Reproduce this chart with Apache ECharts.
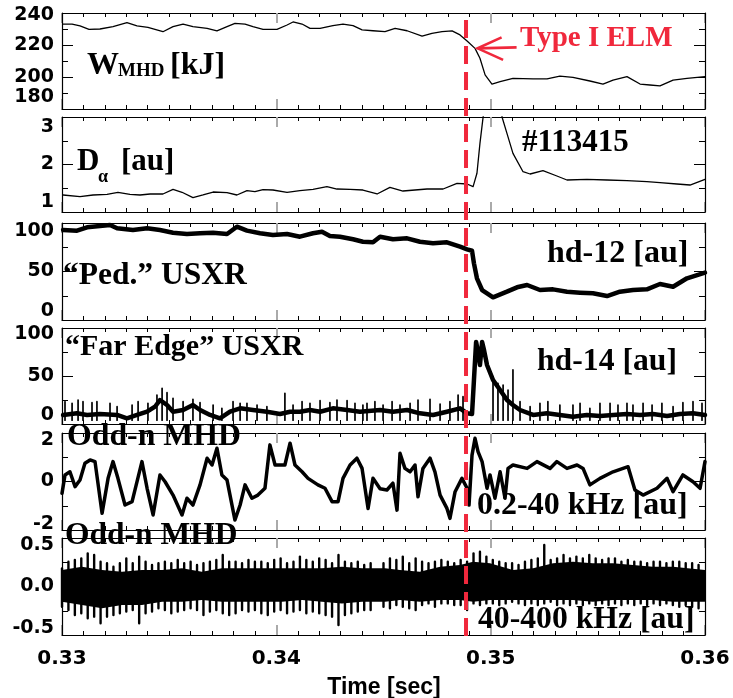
<!DOCTYPE html>
<html>
<head>
<meta charset="utf-8">
<title>Type I ELM time traces</title>
<script src="https://cdn.jsdelivr.net/npm/echarts@6/dist/echarts.min.js"></script>
<style>
  html, body { margin: 0; padding: 0; background: #fff; }
  #chart { width: 733px; height: 698px; }
</style>
</head>
<body>
<div id="chart"></div>
<script>
// ---- data (time in s) ----
const T_ELM = 0.34885

// W_MHD [kJ]
const tW = [0.33005,0.33047,0.33084,0.33126,0.33177,0.33238,0.33303,0.33350,0.33401,0.33471,
  0.33518,0.33565,0.33611,0.33677,0.33723,0.33770,0.33807,0.33854,0.33891,0.33938,
  0.34003,0.34050,0.34078,0.34120,0.34157,0.34204,0.34264,0.34311,0.34358,0.34400,
  0.34451,0.34507,0.34554,0.34610,0.34680,0.34726,0.34773,0.34820,0.34857,0.34890,
  0.34927,0.34950,0.34974,0.35006,0.35044,0.35104,0.35198,0.35263,0.35323,0.35384,
  0.35463,0.35524,0.35571,0.35636,0.35697,0.35743,0.35790,0.35851,0.35916,0.36000]
const wMhd = [233.1,233.1,231.9,229.8,230.0,231.5,234.0,231.9,231.0,228.3,
  231.5,233.1,231.5,230.4,228.8,231.5,233.5,233.1,231.5,229.8,
  229.8,232.5,234.4,233.1,230.4,230.4,232.1,233.1,232.1,229.4,
  228.9,228.3,230.4,228.9,225.6,227.3,228.3,228.8,226.3,222.5,
  217.9,211.7,201.3,195.6,197.1,199.2,198.8,198.8,200.6,199.8,
  197.5,195.6,198.1,200.2,195.6,195.0,194.4,198.1,199.2,200.2]

// D-alpha [au]
const tDa = [0.33005,0.33084,0.33145,0.33210,0.33261,0.33317,0.33364,0.33411,0.33471,0.33518,
  0.33560,0.33611,0.33658,0.33705,0.33770,0.33816,0.33863,0.33900,0.33938,0.33984,
  0.34050,0.34110,0.34171,0.34236,0.34283,0.34344,0.34404,0.34470,0.34530,0.34591,
  0.34703,0.34778,0.34843,0.34890,0.34918,0.34936,0.34950,0.34964,0.34988,0.35020,
  0.35053,0.35076,0.35104,0.35151,0.35184,0.35244,0.35309,0.35356,0.35449,0.35543,
  0.35636,0.35729,0.35790,0.35869,0.35930,0.36000]
const dAlpha = [1.358,1.322,1.358,1.373,1.415,1.373,1.358,1.379,1.379,1.478,
  1.415,1.301,1.358,1.421,1.407,1.358,1.449,1.427,1.469,1.463,
  1.415,1.449,1.478,1.533,1.484,1.478,1.463,1.379,1.520,1.442,
  1.484,1.484,1.604,1.589,1.533,1.815,2.446,2.970,3.800,4.200,
  3.000,2.656,2.235,1.848,1.800,1.869,1.758,1.674,1.688,1.674,
  1.659,1.638,1.617,1.589,1.568,1.688]

// "Ped." USXR, hd-12 [au]
const tPed = [0.33005,0.33070,0.33117,0.33177,0.33224,0.33257,0.33331,0.33397,0.33457,0.33518,
  0.33583,0.33644,0.33705,0.33770,0.33816,0.33863,0.33924,0.33984,0.34050,0.34110,
  0.34171,0.34213,0.34250,0.34297,0.34358,0.34404,0.34451,0.34484,0.34544,0.34610,
  0.34670,0.34731,0.34796,0.34857,0.34890,0.34913,0.34922,0.34936,0.34960,0.34983,
  0.35011,0.35076,0.35123,0.35170,0.35230,0.35291,0.35356,0.35417,0.35477,0.35543,
  0.35603,0.35664,0.35729,0.35790,0.35851,0.35916,0.36000]
const ped = [92.8,92.1,95.6,96.9,97.9,94.5,92.8,94.5,92.8,90.0,
  88.7,89.4,90.0,88.7,96.2,92.1,89.4,87.6,88.7,85.9,
  89.4,91.0,86.6,85.9,83.2,80.7,80.1,85.9,83.2,84.2,
  80.7,79.1,80.1,75.6,72.9,71.4,58.4,43.0,30.9,27.5,
  23.4,29.2,33.7,36.1,30.9,31.6,29.2,28.2,27.5,24.7,
  29.2,30.9,31.6,37.1,34.3,43.0,48.8]

// "Far Edge" USXR, hd-14 [au]: running level plus individual spikes
const tFar = [0.33005,0.33070,0.33117,0.33177,0.33257,0.33303,0.33350,0.33397,0.33434,0.33457,
  0.33490,0.33518,0.33565,0.33611,0.33644,0.33691,0.33737,0.33784,0.33831,0.33891,
  0.33956,0.34017,0.34064,0.34110,0.34157,0.34204,0.34264,0.34330,0.34390,0.34484,
  0.34544,0.34610,0.34670,0.34731,0.34796,0.34857,0.34890,0.34913,0.34922,0.34932,
  0.34941,0.34950,0.34960,0.34969,0.34983,0.35011,0.35044,0.35076,0.35104,0.35137,
  0.35198,0.35263,0.35323,0.35384,0.35449,0.35510,0.35571,0.35636,0.35697,0.35757,
  0.35823,0.35883,0.35944,0.36000]
const farEdge = [9.4,11.1,9.4,10.4,9.4,5.9,9.4,12.8,18.0,25.0,
  19.8,12.8,14.6,19.8,14.6,9.4,5.9,12.8,16.3,14.6,
  12.8,10.4,12.8,12.8,14.6,12.8,16.3,14.6,12.8,14.6,
  12.8,14.6,11.1,9.4,12.8,16.3,11.1,10.4,45.8,85.4,
  75.0,61.5,85.4,77.0,61.5,45.8,35.4,25.0,19.8,14.6,
  9.4,11.1,9.4,7.6,9.4,8.3,9.4,10.4,9.4,10.4,
  8.3,10.4,11.1,9.4]
const farSpikeBase = 4
const tFarSpike = [0.33014,0.33047,0.33075,0.33098,0.33140,0.33163,0.33224,0.33257,0.33327,0.33355,
  0.33401,0.33443,0.33467,0.33490,0.33518,0.33565,0.33611,0.33644,0.33705,0.33746,
  0.33798,0.33831,0.33863,0.33910,0.33956,0.34040,0.34078,0.34120,0.34157,0.34204,
  0.34250,0.34283,0.34330,0.34367,0.34404,0.34423,0.34460,0.34498,0.34540,0.34577,
  0.34624,0.34661,0.34717,0.34764,0.34810,0.34848,0.34871,0.35011,0.35034,0.35058,
  0.35081,0.35104,0.35137,0.35184,0.35230,0.35267,0.35323,0.35384,0.35417,0.35463,
  0.35510,0.35557,0.35594,0.35636,0.35664,0.35711,0.35753,0.35799,0.35851,0.35897,
  0.35944,0.35986]
const farSpike = [23.3,21.5,25.0,23.3,22.2,23.3,21.5,18.0,19.8,23.3,
  21.5,30.2,37.2,32.6,26.7,23.3,25.7,22.2,19.8,16.3,
  23.3,21.5,21.5,19.8,18.0,32.0,19.8,23.3,21.5,24.3,
  22.2,25.0,24.3,21.5,19.8,21.5,23.3,19.8,23.3,19.8,
  21.5,25.0,25.7,20.8,23.3,30.2,28.5,49.3,42.4,40.6,
  35.4,56.3,23.3,18.0,21.5,23.3,19.8,19.8,21.5,16.3,
  21.5,21.5,19.8,21.5,19.8,21.5,19.8,21.5,18.0,22.2,
  23.3,21.5]

// Odd-n MHD 0.2-40 kHz [au]
const tLow = [0.33000,0.33014,0.33037,0.33061,0.33084,0.33107,0.33131,0.33154,0.33187,0.33215,
  0.33238,0.33261,0.33294,0.33327,0.33373,0.33397,0.33425,0.33457,0.33481,0.33518,
  0.33560,0.33583,0.33611,0.33644,0.33677,0.33700,0.33723,0.33746,0.33770,0.33807,
  0.33831,0.33854,0.33886,0.33914,0.33947,0.33970,0.33994,0.34040,0.34064,0.34087,
  0.34120,0.34148,0.34194,0.34227,0.34260,0.34288,0.34311,0.34344,0.34376,0.34400,
  0.34428,0.34451,0.34484,0.34516,0.34544,0.34563,0.34577,0.34600,0.34624,0.34647,
  0.34661,0.34684,0.34717,0.34740,0.34764,0.34796,0.34810,0.34834,0.34866,0.34890,
  0.34899,0.34913,0.34927,0.34941,0.34960,0.34983,0.34997,0.35020,0.35044,0.35067,
  0.35081,0.35104,0.35170,0.35216,0.35277,0.35309,0.35356,0.35403,0.35431,0.35463,
  0.35510,0.35571,0.35641,0.35673,0.35711,0.35776,0.35823,0.35851,0.35897,0.35944,
  0.35977,0.36000]
const mhdLow = [-0.49,0.27,0.40,-0.21,0.06,0.75,0.89,0.82,-1.31,0.13,
  0.82,0.13,-0.97,-0.83,0.82,-0.28,-1.38,0.27,-0.01,-0.56,
  -1.38,-0.69,-0.97,-0.14,0.96,0.68,1.37,0.27,0.06,-1.59,
  -0.97,-0.14,-0.69,-0.56,-0.28,1.51,0.68,0.68,1.58,0.68,
  0.40,0.13,-0.14,-0.28,-0.83,-0.83,0.13,0.68,0.96,0.54,
  -1.11,0.13,-0.30,-0.35,-0.07,-1.18,1.16,0.54,0.40,0.68,
  -0.63,0.54,0.96,0.40,-0.56,-1.11,-1.52,-0.42,0.13,-0.28,
  -0.97,1.09,1.78,1.23,0.82,-0.28,0.27,-0.69,0.40,-0.69,
  0.54,0.68,0.54,0.82,0.54,0.82,0.54,0.68,0.54,-0.14,
  0.13,0.40,0.61,-0.35,-0.56,-0.28,0.13,-0.42,0.27,-0.01,
  -0.28,0.82]

// Odd-n MHD 40-400 kHz [au]: solid core of the band and the spike tips around it
const tCore = [0.33000,0.33093,0.33187,0.33280,0.33373,0.33467,0.33560,0.33653,0.33746,0.33840,
  0.33933,0.34026,0.34120,0.34213,0.34306,0.34400,0.34507,0.34577,0.34670,0.34764,
  0.34857,0.34918,0.34997,0.35104,0.35198,0.35291,0.35384,0.35477,0.35571,0.35664,
  0.35757,0.35851,0.36000]
const coreHi = [0.170,0.204,0.170,0.153,0.170,0.170,0.187,0.153,0.187,0.187,
  0.187,0.187,0.187,0.187,0.204,0.187,0.187,0.170,0.153,0.204,
  0.222,0.256,0.239,0.170,0.187,0.239,0.256,0.239,0.239,0.222,
  0.204,0.204,0.170]
const coreLo = [-0.157,-0.191,-0.225,-0.191,-0.191,-0.157,-0.157,-0.139,-0.157,-0.157,
  -0.157,-0.157,-0.139,-0.157,-0.174,-0.157,-0.157,-0.139,-0.157,-0.139,
  -0.139,-0.157,-0.139,-0.139,-0.139,-0.139,-0.139,-0.157,-0.139,-0.139,
  -0.139,-0.157,-0.157]
const tHigh = [0.3300,0.3303,0.3306,0.3309,0.3312,0.3315,0.3318,0.3321,0.3324,0.3327,
  0.3330,0.3333,0.3336,0.3339,0.3342,0.3345,0.3348,0.3351,0.3354,0.3357,
  0.3360,0.3363,0.3366,0.3369,0.3372,0.3375,0.3378,0.3381,0.3384,0.3387,
  0.3390,0.3393,0.3396,0.3399,0.3402,0.3405,0.3408,0.3411,0.3414,0.3417,
  0.3420,0.3423,0.3426,0.3429,0.3432,0.3435,0.3438,0.3441,0.3444,
  0.3450,0.3453,0.3456,0.3459,0.3462,0.3465,0.3468,0.3471,0.3474,0.3477,
  0.3480,0.3483,0.3486,0.3489,0.3492,0.3495,0.3498,0.3501,0.3504,0.3507,
  0.3510,0.3513,0.3516,0.3519,0.3522,0.3525,0.3528,0.3531,0.3534,0.3537,
  0.3540,0.3543,0.3546,0.3549,0.3552,0.3555,0.3558,0.3561,0.3564,0.3567,
  0.3570,0.3573,0.3576,0.3579,0.3582,0.3585,0.3588,0.3591,0.3594,0.3597]
const highTop = [0.187,0.256,0.273,0.290,0.342,0.325,0.256,0.239,0.204,0.239,
  0.290,0.239,0.308,0.256,0.222,0.239,0.256,0.239,0.273,0.239,
  0.256,0.222,0.239,0.256,0.273,0.325,0.256,0.256,0.239,0.273,
  0.256,0.256,0.239,0.273,0.290,0.239,0.256,0.308,0.273,0.256,
  0.290,0.273,0.239,0.325,0.256,0.239,0.256,0.222,0.239,
  0.239,0.290,0.273,0.308,0.239,0.290,0.256,0.239,0.256,0.273,
  0.256,0.239,0.273,0.256,0.342,0.359,0.308,0.273,0.256,0.239,
  0.239,0.222,0.256,0.273,0.290,0.428,0.273,0.290,0.325,0.290,
  0.308,0.290,0.325,0.290,0.273,0.290,0.290,0.256,0.273,0.256,
  0.256,0.239,0.256,0.256,0.239,0.256,0.256,0.239,0.239,0.222]
const highBottom = [-0.208,-0.242,-0.294,-0.277,-0.328,-0.311,-0.380,-0.311,-0.294,-0.277,
  -0.259,-0.242,-0.380,-0.277,-0.259,-0.225,-0.242,-0.277,-0.259,-0.242,
  -0.225,-0.242,-0.294,-0.259,-0.242,-0.277,-0.294,-0.277,-0.242,-0.259,
  -0.242,-0.277,-0.294,-0.259,-0.242,-0.277,-0.259,-0.242,-0.277,-0.259,
  -0.277,-0.294,-0.311,-0.397,-0.294,-0.277,-0.259,-0.242,-0.242,
  -0.208,-0.225,-0.191,-0.208,-0.225,-0.242,-0.191,-0.174,-0.208,-0.174,
  -0.174,-0.191,-0.191,-0.242,-0.174,-0.191,-0.174,-0.174,-0.191,-0.174,
  -0.157,-0.174,-0.191,-0.174,-0.191,-0.174,-0.157,-0.191,-0.174,-0.191,
  -0.174,-0.191,-0.174,-0.191,-0.174,-0.191,-0.174,-0.191,-0.174,-0.191,
  -0.174,-0.191,-0.174,-0.191,-0.174,-0.191,-0.208,-0.191,-0.208,-0.225]

// where the "Type I ELM" arrow points on the W_MHD trace
const ARROW_T = 0.34939
const ARROW_W = 217.9

// ---- layout ----
const RED = '#f0283c'
const SERIF = '"Liberation Serif", "Times New Roman", serif'
const SANS = '"DejaVu Sans", sans-serif'

const panels = [
  { top: 13, height: 96, min: 180, max: 240, step: 20, padT: 5, padB: 24 },
  { top: 117, height: 95, min: 1, max: 3, step: 1, padT: 20, padB: 20 },
  { top: 223, height: 97, min: 0, max: 100, step: 50, padT: 17, padB: 17 },
  { top: 328, height: 96, min: 0, max: 100, step: 50, padT: 12, padB: 18 },
  { top: 433, height: 97, min: -2, max: 2, step: 2, padT: 14, padB: 12 },
  { top: 538, height: 97, min: -0.5, max: 0.5, step: 0.5, padT: 14, padB: 13, fixed: 1 }
]

const zip = (t, v) => t.map((x, i) => [x, v[i]])
// vertical strokes from lo to hi at each time, broken apart with '-'
const strokes = (t, hi, lo) => {
  const out = []
  t.forEach((x, i) => {
    const l = Array.isArray(lo) ? lo[i] : lo
    out.push([x, hi[i]], [x, l], [x, '-'])
  })
  return out
}

const grids = []
const xAxes = []
const yAxes = []
panels.forEach((p, i) => {
  grids.push({ left: 62, width: 643, top: p.top, height: p.height })
  const last = i === panels.length - 1
  ;['bottom', 'top'].forEach(pos => {
    xAxes.push({
      type: 'value', gridIndex: i, position: pos, min: 0.33, max: 0.36, interval: 0.01, z: 0,
      axisLine: { onZero: false, lineStyle: { color: '#000', width: 1.2 } },
      axisTick: { inside: true, length: 10, lineStyle: { color: '#aaaaaa', width: 2 } },
      minorTick: { show: true, splitNumber: 10, length: 4, lineStyle: { color: '#000', width: 1 } },
      splitLine: { show: false },
      axisLabel: {
        show: last && pos === 'bottom', margin: 14, showMinLabel: true, showMaxLabel: true,
        color: '#000', fontFamily: SANS, fontWeight: 'bold', fontSize: 20,
        formatter: v => v.toFixed(2)
      }
    })
  })
  ;['left', 'right'].forEach(pos => {
    const fmt = v => (p.fixed ? v.toFixed(p.fixed) : String(v))
    const font = { fontFamily: SANS, fontWeight: 'bold', fontSize: 19, color: '#000' }
    yAxes.push({
      type: 'value', gridIndex: i, position: pos, min: p.min, max: p.max, interval: p.step, z: 1,
      axisLine: { show: true, onZero: false, lineStyle: { color: '#000', width: 1.2 } },
      axisTick: { inside: true, length: 11, lineStyle: { color: '#000', width: 1 } },
      minorTick: { show: true, splitNumber: 2, length: 6, lineStyle: { color: '#000', width: 1 } },
      splitLine: { show: false },
      axisLabel: {
        show: pos === 'left', margin: 8, showMinLabel: true, showMaxLabel: true, ...font,
        formatter: v => {
          const s = fmt(v)
          if (Math.abs(v - p.max) < 1e-9) return '{t|' + s + '}'
          if (Math.abs(v - p.min) < 1e-9) return '{b|' + s + '}'
          return s
        },
        rich: {
          t: { ...font, padding: [p.padT, 0, 0, 0] },
          b: { ...font, padding: [0, 0, p.padB, 0] }
        }
      }
    })
  })
})

const line = (idx, data, width) => ({
  type: 'line', xAxisIndex: idx * 2, yAxisIndex: idx * 2, data,
  symbol: 'none', clip: true, silent: true, animation: false,
  lineStyle: { color: '#000', width, join: 'round', cap: 'round' }
})

const series = [
  line(0, zip(tW, wMhd), 1.3),
  line(1, zip(tDa, dAlpha), 1.3),
  line(2, zip(tPed, ped), 4.5),
  line(3, zip(tFar, farEdge), 4.5),
  line(3, strokes(tFarSpike, farSpike, farSpikeBase), 1.7),
  line(4, zip(tLow, mhdLow), 3.5),
  {
    type: 'custom', coordinateSystem: 'cartesian2d', xAxisIndex: 10, yAxisIndex: 10,
    silent: true, animation: false, data: [[tCore[0], 0]],
    renderItem: (params, api) => {
      const pts = tCore.map((t, i) => api.coord([t, coreHi[i]]))
      for (let i = tCore.length - 1; i >= 0; i--) pts.push(api.coord([tCore[i], coreLo[i]]))
      return { type: 'polygon', shape: { points: pts }, style: { fill: '#000' } }
    }
  },
  line(5, strokes(tHigh, highTop, highBottom), 2.4)
]

const chart = echarts.init(document.getElementById('chart'), null, { renderer: 'canvas' })
chart.setOption({
  animation: false,
  backgroundColor: '#fff',
  grid: grids,
  xAxis: xAxes,
  yAxis: yAxes,
  series
})

// ---- annotations ----
const labels = [
  { text: 'W', x: 87, y: 65.5, size: 32 },
  { text: 'MHD', x: 118, y: 71, size: 19 },
  { text: '[kJ]', x: 170, y: 65.5, size: 32 },
  { text: 'D', x: 77, y: 162, size: 31 },
  { text: 'α', x: 98, y: 177, size: 18 },
  { text: '[au]', x: 121, y: 162, size: 31 },
  { text: '#113415', x: 522, y: 142.5, size: 31 },
  { text: '“Ped.” USXR', x: 63, y: 275.5, size: 31.5 },
  { text: 'hd-12 [au]', x: 547, y: 254, size: 32 },
  { text: '“Far Edge” USXR', x: 65, y: 347.5, size: 30 },
  { text: 'hd-14 [au]', x: 537, y: 362, size: 31.7 },
  { text: 'Odd-n MHD', x: 67, y: 437, size: 31.8 },
  { text: '0.2-40 kHz [au]', x: 477, y: 506, size: 32 },
  { text: 'Odd-n MHD', x: 65, y: 536, size: 31.5 },
  { text: '40-400 kHz [au]', x: 478, y: 620, size: 31.7 },
  { text: 'Type I ELM', x: 520, y: 39, size: 29, color: RED }
]

const graphic = labels.map(l => ({
  type: 'text', x: l.x, y: l.y, z: 1, silent: true,
  style: {
    text: l.text, fill: l.color || '#000',
    font: 'bold ' + l.size + 'px ' + SERIF,
    textAlign: 'left', align: 'left', textVerticalAlign: 'middle', verticalAlign: 'middle'
  }
}))

graphic.push({
  type: 'text', x: 384, y: 688, z: 1, silent: true,
  style: {
    text: 'Time [sec]', fill: '#000', font: 'bold 23px "Liberation Sans", Arial, sans-serif',
    textAlign: 'center', align: 'center', textVerticalAlign: 'middle', verticalAlign: 'middle'
  }
})

const xElm = chart.convertToPixel({ xAxisIndex: 0 }, T_ELM)
graphic.push({
  type: 'line', z: 100, silent: true,
  shape: { x1: xElm, y1: 20, x2: xElm, y2: 639 },
  style: { stroke: RED, lineWidth: 4, lineDash: [18, 8] }
})

const tip = chart.convertToPixel({ gridIndex: 0 }, [ARROW_T, ARROW_W])
graphic.push({
  type: 'polyline', z: 100, silent: true,
  shape: { points: [[tip[0] + 39, tip[1] - 1], tip] },
  style: { stroke: RED, lineWidth: 2.6, fill: null }
})
graphic.push({
  type: 'polyline', z: 100, silent: true,
  shape: { points: [[tip[0] + 24, tip[1] - 11], tip, [tip[0] + 25.5, tip[1] + 11.5]] },
  style: { stroke: RED, lineWidth: 2.6, fill: null }
})

chart.setOption({ graphic })
</script>
</body>
</html>
